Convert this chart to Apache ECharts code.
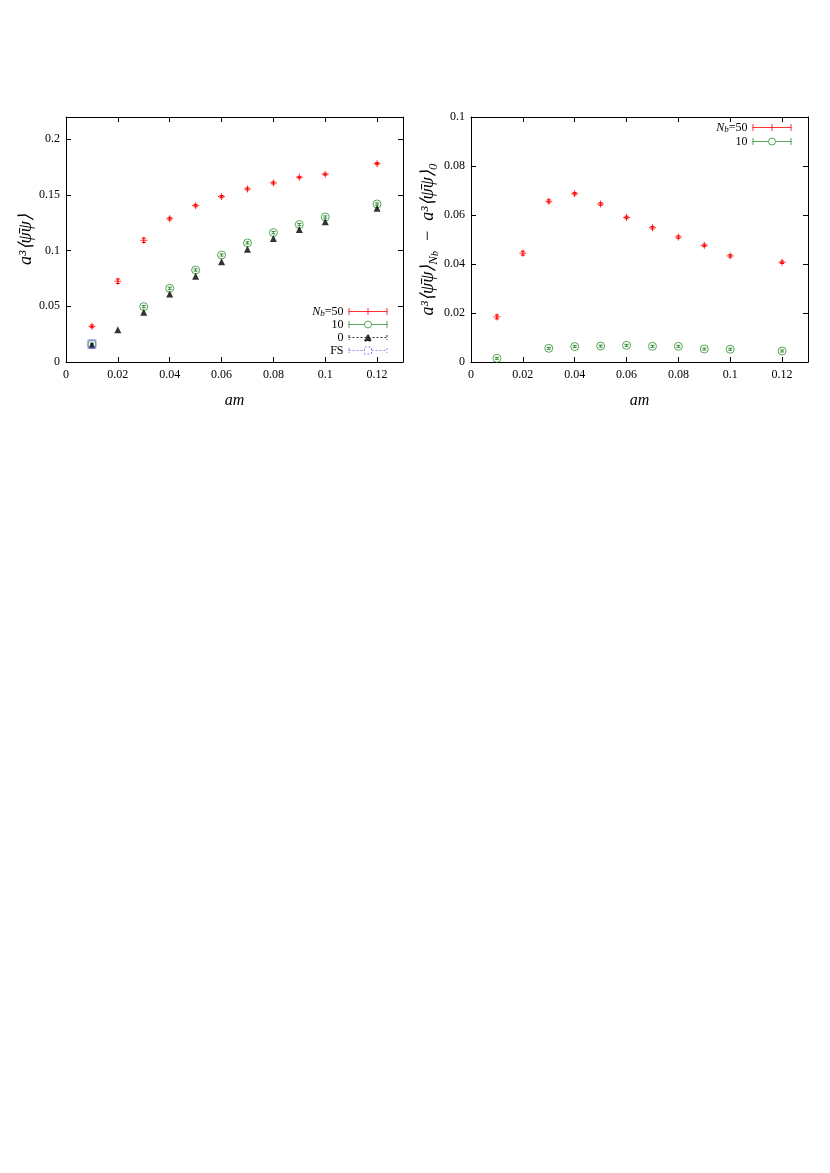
<!DOCTYPE html>
<html><head><meta charset="utf-8">
<script src="https://cdn.jsdelivr.net/npm/echarts@6/dist/echarts.min.js"></script>
<style>html,body{margin:0;padding:0;background:#fff}#c{width:830px;height:1173px}</style>
</head><body><div id="c"></div>
<script>
// ---------- data ----------
const xTicksStep = 0.02;
// left panel: a^3 <psibar psi>
const leftN50X   = [0.01,0.02,0.03,0.04,0.05,0.06,0.07,0.08,0.09,0.10,0.12];
const leftN50Y   = [0.0320,0.0725,0.1093,0.1287,0.1404,0.1485,0.1554,0.1608,0.1659,0.1686,0.1781];
const leftN50Err = [0.0012,0.0020,0.0020,0.0012,0.0010,0.0010,0.0010,0.0010,0.0008,0.0008,0.0010];
const leftN10X   = [0.01,0.03,0.04,0.05,0.06,0.07,0.08,0.09,0.10,0.12];
const leftN10Y   = [0.0160,0.0497,0.0662,0.0826,0.0961,0.1069,0.1162,0.1234,0.1302,0.1419];
const leftN10Err = [0.0008,0.0010,0.0010,0.0010,0.0010,0.0010,0.0010,0.0010,0.0010,0.0010];
const leftN0X    = [0.01,0.02,0.03,0.04,0.05,0.06,0.07,0.08,0.09,0.10,0.12];
const leftN0Y    = [0.0153,0.0290,0.0446,0.0611,0.0769,0.0901,0.1012,0.1108,0.1189,0.1260,0.1380];
const leftFSX    = [0.01];
const leftFSY    = [0.0162];
// right panel: difference to N_b=0
const rightN50X   = [0.01,0.02,0.03,0.04,0.05,0.06,0.07,0.08,0.09,0.10,0.12];
const rightN50Y   = [0.0184,0.0444,0.0656,0.0687,0.0645,0.0590,0.0548,0.0510,0.0476,0.0433,0.0407];
const rightN50Err = [0.0008,0.0008,0.0006,0.0005,0.0005,0.0005,0.0005,0.0005,0.0005,0.0005,0.0005];
const rightN10X   = [0.01,0.03,0.04,0.05,0.06,0.07,0.08,0.09,0.10,0.12];
const rightN10Y   = [0.0015,0.0056,0.0063,0.0065,0.0068,0.0064,0.0064,0.0053,0.0052,0.0045];
const rightN10Err = [0.0004,0.0004,0.0004,0.0004,0.0004,0.0004,0.0004,0.0004,0.0004,0.0004];

// ---------- styles ----------
const RED = '#ff0000', GREEN = '#2f8f2f', BLACK = '#000000', BLUE = '#6a6aff';
const FONT = 'Liberation Serif';
const TICKFS = 12;
const zip = (xs, ys, es) => xs.map((x, i) => es ? [x, ys[i], es[i]] : [x, ys[i]]);

function errSeries(xi, yi, data, color) {
  return {
    type: 'custom', xAxisIndex: xi, yAxisIndex: yi, data: data, silent: true, z: 1,
    encode: { x: 0, y: 1 },
    renderItem: function (params, api) {
      const x = api.value(0), y = api.value(1), e = api.value(2);
      const lo = api.coord([x, y - e]), hi = api.coord([x, y + e]);
      const c = 2, st = { stroke: color, lineWidth: 1 };
      return { type: 'group', children: [
        { type: 'line', shape: { x1: lo[0], y1: lo[1], x2: hi[0], y2: hi[1] }, style: st },
        { type: 'line', shape: { x1: lo[0] - c, y1: lo[1], x2: lo[0] + c, y2: lo[1] }, style: st },
        { type: 'line', shape: { x1: hi[0] - c, y1: hi[1], x2: hi[0] + c, y2: hi[1] }, style: st }
      ]};
    }
  };
}

const PLUS = 'path://M0,5L10,5M5,0L5,10';
function scatter(name, xi, yi, data, symbol, size, style) {
  return { name: name, type: 'scatter', xAxisIndex: xi, yAxisIndex: yi, data: data,
    symbol: symbol, symbolSize: size, itemStyle: style, z: 3, silent: true };
}

function xAx(grid, max, pos, labels) {
  return { type: 'value', gridIndex: grid, position: pos, min: 0, max: max, interval: xTicksStep,
    axisLine: { show: true, onZero: false, lineStyle: { color: '#000', width: 1 } },
    axisTick: { show: true, inside: true, length: 5, lineStyle: { color: '#000' } },
    splitLine: { show: false },
    axisLabel: { show: labels, showMaxLabel: false, margin: 7, color: '#000', fontFamily: FONT, fontSize: TICKFS },
    name: labels ? 'am' : '', nameLocation: 'middle', nameGap: 31,
    nameTextStyle: { fontFamily: FONT, fontSize: 16, fontStyle: 'italic', color: '#000' }
  };
}
function yAx(grid, max, interval, pos, labels, name, gap) {
  const onTick = Math.abs(max / interval - Math.round(max / interval)) < 1e-6;
  return { type: 'value', gridIndex: grid, position: pos, min: 0, max: max, interval: interval,
    axisLine: { show: true, onZero: false, lineStyle: { color: '#000', width: 1 } },
    axisTick: { show: true, inside: true, length: 5, lineStyle: { color: '#000' } },
    splitLine: { show: false },
    axisLabel: { show: labels, showMaxLabel: onTick, margin: 6, color: '#000', fontFamily: FONT, fontSize: TICKFS },
    name: labels ? name : '', nameLocation: 'middle', nameGap: gap, nameRotate: 90,
    nameTextStyle: { fontFamily: FONT, fontSize: 18, fontStyle: 'italic', color: '#000',
      rich: {
        n: { fontFamily: FONT, fontSize: 18, fontStyle: 'italic', color: '#000', lineHeight: 24 },
        s: { fontFamily: FONT, fontSize: 13, fontStyle: 'italic', color: '#000', lineHeight: 13, verticalAlign: 'bottom' },
        ss: { fontFamily: FONT, fontSize: 10, fontStyle: 'italic', color: '#000', lineHeight: 10, verticalAlign: 'bottom' }
      } }
  };
}

const legendRich = {
  t: { fontFamily: FONT, fontSize: 12, color: '#000', lineHeight: 13 },
  i: { fontFamily: FONT, fontSize: 12, fontStyle: 'italic', color: '#000', lineHeight: 13 },
  b: { fontFamily: FONT, fontSize: 9, fontStyle: 'italic', color: '#000', lineHeight: 9, verticalAlign: 'bottom' }
};
const legendLabels = { N50: '{i|N}{b|b}{t|=50}', N10: '{t|10}', N0: '{t|0}', FS: '{t|FS}' };
const ICON_RED   = 'path://M0,3.5L39,3.5M0.5,0L0.5,7M38.5,0L38.5,7M19.5,0L19.5,7';
const ICON_GREEN = 'path://M0,3.5L16,3.5M23,3.5L39,3.5M0.5,0L0.5,7M38.5,0L38.5,7M23,3.5A3.5,3.5 0 1 0 16,3.5A3.5,3.5 0 1 0 23,3.5';
const ICON_BLACK = 'path://M0,3.5L39,3.5M0.5,1L0.5,6M38.5,1L38.5,6M16,7L23,7L19.5,0Z';
const ICON_BLUE  = 'path://M0,3.5L16,3.5M23,3.5L39,3.5M0.5,1L0.5,6M38.5,1L38.5,6M16,0L23,0L23,7L16,7Z';
const legItems = {
  N50: { name: 'N50', icon: ICON_RED,   itemStyle: { color: 'rgba(0,0,0,0)', borderColor: RED,   borderWidth: 1 } },
  N10: { name: 'N10', icon: ICON_GREEN, itemStyle: { color: 'rgba(0,0,0,0)', borderColor: GREEN, borderWidth: 1 } },
  N0:  { name: 'N0',  icon: ICON_BLACK, itemStyle: { color: BLACK, borderColor: BLACK, borderWidth: 1, borderType: [2, 2] } },
  FS:  { name: 'FS',  icon: ICON_BLUE,  itemStyle: { color: 'rgba(0,0,0,0)', borderColor: BLUE, borderWidth: 1, borderType: [2, 2] } }
};
function legend(items, right, top, gap) {
  return { orient: 'vertical', right: right, top: top, align: 'right', itemWidth: 39, itemHeight: 7,
    itemGap: gap, selectedMode: false, padding: 0, data: items.map(k => legItems[k]),
    formatter: n => legendLabels[n], textStyle: { rich: legendRich, fontFamily: FONT, fontSize: 12, lineHeight: 13 } };
}

const leftName = '{n|a³⟨ψ̄ψ⟩}';
const rightName = '{n|a³⟨ψ̄ψ⟩}{s|N}{ss|b}{n|  −  a³⟨ψ̄ψ⟩}{s|0}';

const option = {
  animation: false,
  backgroundColor: '#fff',
  grid: [
    { left: 66, top: 117, width: 337, height: 245 },
    { left: 471, top: 117, width: 337, height: 245 }
  ],
  xAxis: [
    xAx(0, 0.13, 'bottom', true), xAx(0, 0.13, 'top', false),
    xAx(1, 0.13, 'bottom', true), xAx(1, 0.13, 'top', false)
  ],
  yAxis: [
    yAx(0, 0.22, 0.05, 'left', true, leftName, 26), yAx(0, 0.22, 0.05, 'right', false, '', 0),
    yAx(1, 0.1, 0.02, 'left', true, rightName, 24), yAx(1, 0.1, 0.02, 'right', false, '', 0)
  ],
  legend: [ legend(['N50', 'N10', 'N0', 'FS'], 442, 305, 0), legend(['N50', 'N10'], 38, 121, 1) ],
  series: [
    errSeries(0, 0, zip(leftN50X, leftN50Y, leftN50Err), RED),
    errSeries(0, 0, zip(leftN10X, leftN10Y, leftN10Err), GREEN),
    scatter('N50', 0, 0, zip(leftN50X, leftN50Y), PLUS, 7, { color: 'rgba(0,0,0,0)', borderColor: RED, borderWidth: 1 }),
    scatter('N10', 0, 0, zip(leftN10X, leftN10Y), 'circle', 8, { color: 'rgba(0,0,0,0)', borderColor: GREEN, borderWidth: 1 }),
    scatter('N0', 0, 0, zip(leftN0X, leftN0Y), 'triangle', 7, { color: BLACK }),
    scatter('FS', 0, 0, zip(leftFSX, leftFSY), 'rect', 8, { color: 'rgba(0,0,0,0)', borderColor: BLUE, borderWidth: 1 }),
    errSeries(2, 2, zip(rightN50X, rightN50Y, rightN50Err), RED),
    errSeries(2, 2, zip(rightN10X, rightN10Y, rightN10Err), GREEN),
    scatter('N50', 2, 2, zip(rightN50X, rightN50Y), PLUS, 7, { color: 'rgba(0,0,0,0)', borderColor: RED, borderWidth: 1 }),
    scatter('N10', 2, 2, zip(rightN10X, rightN10Y), 'circle', 8, { color: 'rgba(0,0,0,0)', borderColor: GREEN, borderWidth: 1 })
  ]
};
echarts.init(document.getElementById('c'), null, { renderer: 'canvas' }).setOption(option);
</script>
</body></html>
